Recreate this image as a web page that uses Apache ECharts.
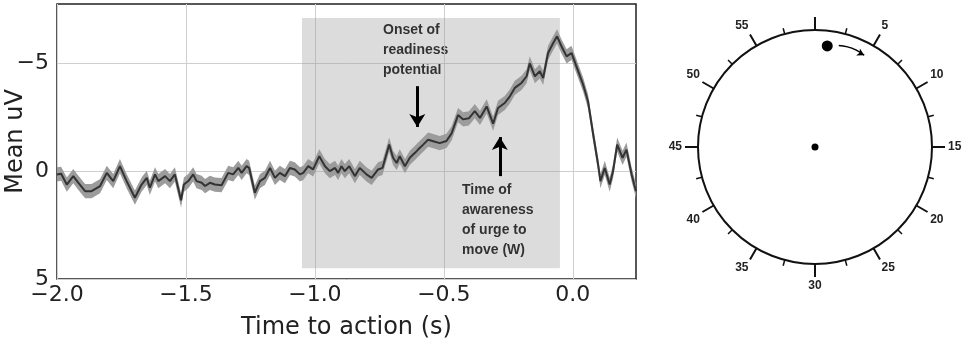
<!DOCTYPE html>
<html>
<head>
<meta charset="utf-8">
<script src="https://cdn.jsdelivr.net/npm/echarts@6/dist/echarts.min.js"></script>
<style>
  html, body { margin: 0; padding: 0; background: #fff; }
  #chart { width: 971px; height: 342px; }
</style>
</head>
<body>
<div id="chart"></div>
<script>
// time to action (s)
var timeSec = [-2.0,-1.984,-1.962,-1.937,-1.917,-1.891,-1.866,-1.833,-1.807,-1.782,
  -1.756,-1.730,-1.698,-1.672,-1.652,-1.640,-1.620,-1.607,-1.581,-1.562,
  -1.543,-1.519,-1.508,-1.491,-1.472,-1.459,-1.439,-1.426,-1.407,-1.388,
  -1.362,-1.336,-1.317,-1.297,-1.284,-1.265,-1.255,-1.233,-1.213,-1.194,
  -1.174,-1.155,-1.136,-1.116,-1.097,-1.078,-1.058,-1.045,-1.026,-1.007,
  -0.983,-0.961,-0.942,-0.922,-0.910,-0.897,-0.884,-0.867,-0.845,-0.826,
  -0.800,-0.780,-0.755,-0.738,-0.712,-0.697,-0.683,-0.671,-0.651,-0.632,
  -0.612,-0.600,-0.580,-0.561,-0.541,-0.516,-0.490,-0.470,-0.445,-0.425,
  -0.403,-0.380,-0.360,-0.334,-0.309,-0.290,-0.264,-0.244,-0.225,-0.199,
  -0.179,-0.167,-0.147,-0.128,-0.115,-0.096,-0.076,-0.061,-0.044,-0.024,
  -0.005,0.014,0.040,0.059,0.079,0.098,0.107,0.124,0.143,0.156,
  0.172,0.193,0.208,0.228,0.245];
// mean uV
var meanUv = [0.15,0.12,0.62,0.23,0.54,0.93,0.93,0.69,0.08,0.46,
  -0.23,0.46,1.23,0.62,0.31,0.77,0.15,0.46,0.23,0.46,
  0.15,1.35,0.62,0.46,0.15,0.46,0.54,0.69,0.54,0.62,
  0.65,0.08,0.15,-0.15,0.08,-0.23,-0.15,1.0,0.46,0.31,
  -0.15,0.31,0.08,0.23,-0.15,-0.08,0.15,0.08,-0.23,-0.08,
  -0.69,-0.23,0,-0.15,0.08,-0.23,0,-0.23,0.23,-0.15,
  0.15,0.31,-0.08,-0.15,-1.23,-0.62,-0.38,-0.69,-0.23,-0.62,
  -0.85,-1.0,-1.23,-1.46,-1.39,-1.3,-1.4,-1.75,-2.6,-2.4,
  -2.45,-2.78,-2.47,-3.0,-2.2,-2.93,-3.16,-3.47,-3.86,-4.09,
  -4.4,-5.0,-4.4,-4.63,-4.32,-5.48,-5.94,-6.25,-5.79,-5.32,
  -5.48,-4.86,-4.01,-3.24,-1.7,-0.31,0.46,-0.15,0.62,0,
  -1.23,-0.62,-1.0,0.15,0.93];
var semUv = 0.33; // half width of the shaded band

var xTicks = [-2.0, -1.5, -1.0, -0.5, 0.0];
var yTicks = [-5, 0, 5];

// shaded window [t0, v0] - [t1, v1]
var windowBox = [[-1.05, -7.1], [-0.05, 4.5]];
// arrows: [t, from, to]
var arrowOnset = [-0.603, -3.94, -2.05];
var arrowW = [-0.283, 0.23, -1.58];

// clock: [radius (0-1), minute]
var clockHand = [[0.87, 1.15]];
var clockCenter = [[0, 0]];
var clockArrow = [[0.89, 2.2], [0.9, 3.0], [0.9, 3.8], [0.89, 4.7]];

var chart = echarts.init(document.getElementById('chart'));

function minus(v, digits) {
  var s = Math.abs(v).toFixed(digits);
  return v < 0 ? '\u2212' + s : s;
}

var linePts = timeSec.map(function (t, i) { return [t, meanUv[i]]; });

var arrowPts = clockArrow.map(function (p, i) {
  if (i === clockArrow.length - 1) {
    return { value: p, symbol: 'arrow', symbolSize: [6, 7], symbolRotate: -118 };
  }
  return p;
});

var option = {
  backgroundColor: '#fff',
  animation: false,
  grid: {
    left: 57, right: 335, top: 4, bottom: 63,
    containLabel: false, outerBoundsMode: 'none',
    show: true, borderColor: '#222', borderWidth: 1.5, backgroundColor: 'transparent'
  },
  xAxis: {
    type: 'value', min: -2.0, max: 0.245,
    name: 'Time to action (s)', nameLocation: 'middle', nameGap: 37, nameMoveOverlap: false,
    nameTextStyle: { fontFamily: 'DejaVu Sans', fontSize: 24, color: '#222' },
    axisLine: { show: false },
    axisTick: { show: false, customValues: xTicks },
    axisLabel: {
      customValues: xTicks, margin: 5,
      fontFamily: 'DejaVu Sans', fontSize: 22, color: '#222',
      formatter: function (v) { return minus(v, 1); }
    },
    splitLine: { show: true, lineStyle: { color: '#cfcfcf', width: 1 } }
  },
  yAxis: {
    type: 'value', min: -7.75, max: 5, inverse: true,
    name: 'Mean uV', nameLocation: 'middle', nameGap: 29, nameMoveOverlap: false,
    nameTextStyle: { fontFamily: 'DejaVu Sans', fontSize: 24, color: '#222' },
    axisLine: { show: false },
    axisTick: { show: false, customValues: yTicks },
    axisLabel: {
      customValues: yTicks, margin: 8,
      fontFamily: 'DejaVu Sans', fontSize: 22, color: '#222',
      formatter: function (v) { return minus(v, 0); }
    },
    splitLine: { show: true, lineStyle: { color: '#cfcfcf', width: 1 } }
  },
  polar: { center: [815, 147], radius: 117 },
  angleAxis: {
    type: 'value', min: 0, max: 60, interval: 5,
    startAngle: 90, clockwise: true,
    axisLine: { show: true, lineStyle: { color: '#111', width: 2 } },
    axisTick: { show: true, length: 13, lineStyle: { color: '#111', width: 2 } },
    minorTick: { show: true, splitNumber: 2, length: 6, lineStyle: { color: '#111', width: 1.5 } },
    axisLabel: {
      margin: 16, fontFamily: 'Liberation Sans', fontWeight: 'bold', fontSize: 12, color: '#222',
      formatter: function (v) { return (v === 0 || v === 60) ? '' : String(v); }
    },
    splitLine: { show: false },
    minorSplitLine: { show: false }
  },
  radiusAxis: { min: 0, max: 1, show: false },
  series: [
    {
      type: 'custom',
      coordinateSystem: 'cartesian2d',
      xAxisIndex: 0, yAxisIndex: 0,
      silent: true, z: 2,
      data: [0],
      renderItem: function (params, api) {
        var pts = [];
        for (var i = 0; i < timeSec.length; i++) {
          pts.push(api.coord([timeSec[i], meanUv[i] - semUv]));
        }
        for (var j = timeSec.length - 1; j >= 0; j--) {
          pts.push(api.coord([timeSec[j], meanUv[j] + semUv]));
        }
        return {
          type: 'polygon',
          shape: { points: pts },
          style: { fill: '#9c9c9c' }
        };
      }
    },
    {
      type: 'line',
      data: linePts,
      showSymbol: false, silent: true, z: 3,
      lineStyle: { color: '#333', width: 2 },
      markArea: {
        silent: true,
        itemStyle: { color: 'rgba(150,150,150,0.33)' },
        data: [[
          { coord: windowBox[0] },
          { coord: windowBox[1] }
        ]]
      },
      markLine: {
        silent: true,
        symbol: ['none', 'arrow'],
        symbolSize: [12, 13],
        label: { show: false },
        lineStyle: { color: '#000', width: 3, type: 'solid' },
        data: [
          [{ coord: [arrowOnset[0], arrowOnset[1]] }, { coord: [arrowOnset[0], arrowOnset[2]] }],
          [{ coord: [arrowW[0], arrowW[1]] }, { coord: [arrowW[0], arrowW[2]] }]
        ]
      }
    },
    {
      type: 'scatter', coordinateSystem: 'polar', silent: true,
      symbolSize: 11, itemStyle: { color: '#000', opacity: 1 },
      data: clockHand
    },
    {
      type: 'scatter', coordinateSystem: 'polar', silent: true,
      symbolSize: 7, itemStyle: { color: '#000', opacity: 1 },
      data: clockCenter
    },
    {
      type: 'line', coordinateSystem: 'polar', silent: true,
      smooth: true, symbol: 'none', showSymbol: true,
      lineStyle: { color: '#000', width: 1.5 },
      itemStyle: { color: '#000' },
      data: arrowPts
    }
  ],
  graphic: [
    {
      type: 'text', left: 383, top: 20, silent: true,
      style: {
        text: 'Onset of\nreadiness\npotential',
        font: 'bold 14px "Liberation Sans"', lineHeight: 20, fill: '#000'
      }
    },
    {
      type: 'text', left: 462, top: 180, silent: true,
      style: {
        text: 'Time of\nawareness\nof urge to\nmove (W)',
        font: 'bold 14px "Liberation Sans"', lineHeight: 20, fill: '#000'
      }
    }
  ]
};

chart.setOption(option);
</script>
</body>
</html>
